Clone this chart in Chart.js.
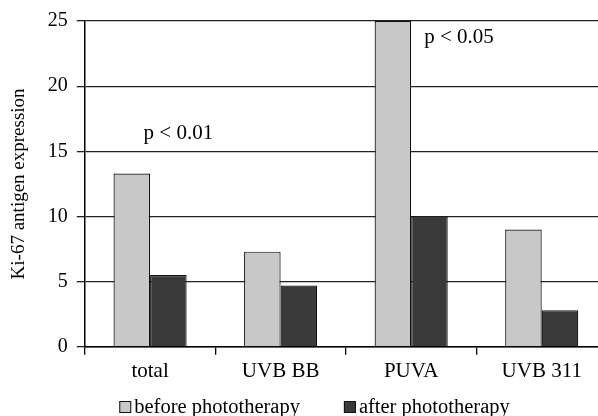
<!DOCTYPE html>
<html>
<head>
<meta charset="utf-8">
<script src="https://cdn.jsdelivr.net/npm/chart.js@4"></script>
<style>
html,body{margin:0;padding:0;background:#fff;overflow:hidden;width:598px;height:416px;}
#wrap{position:absolute;left:0;top:0;width:629px;height:416px;}
</style>
</head>
<body>
<div id="wrap"><canvas id="c" width="629" height="416"></canvas></div>
<script>
const categories = ['total', 'UVB BB', 'PUVA', 'UVB 311'];
const beforeValues = [13.3, 7.3, 25, 9.0];
const afterValues = [5.5, 4.7, 10.0, 2.8];
const seriesNames = ['before phototherapy', 'after phototherapy'];
const seriesColors = ['#c8c8c8', '#3a3a3a'];
const yTicks = [0, 5, 10, 15, 20, 25];
const annotations = [
  {text: 'p < 0.01', cat: -0.05, y: 16.4},
  {text: 'p < 0.05', cat: 0.1 + 2, y: 23.7}
];

const FONT = '"Liberation Serif", "Times New Roman", serif';

const annotPlugin = {
  id: 'annot',
  afterDatasetsDraw(chart) {
    const ctx = chart.ctx;
    const xs = chart.scales.x, ys = chart.scales.y;
    ctx.save();
    ctx.font = '21px ' + FONT;
    ctx.fillStyle = '#000';
    ctx.textAlign = 'left';
    ctx.textBaseline = 'middle';
    annotations.forEach(a => {
      ctx.fillText(a.text, xs.getPixelForValue(a.cat), ys.getPixelForValue(a.y));
    });
    ctx.restore();
  }
};

const legendPlugin = {
  id: 'customLegend',
  afterDraw(chart) {
    const ctx = chart.ctx;
    ctx.save();
    ctx.font = '20.5px ' + FONT;
    const box = 12, boxGap = 3, itemGap = 44;
    const widths = chart.data.datasets.map(d => box + boxGap + ctx.measureText(d.label).width);
    const total = widths.reduce((a, b) => a + b, 0) + itemGap * (widths.length - 1);
    let x = chart.width / 2 - total / 2;
    const yBox = 401;
    chart.data.datasets.forEach((d, i) => {
      ctx.fillStyle = d.backgroundColor;
      ctx.fillRect(x, yBox, box, box);
      ctx.strokeStyle = '#111';
      ctx.lineWidth = 1;
      ctx.strokeRect(x + 0.5, yBox + 0.5, box - 1, box - 1);
      ctx.fillStyle = '#000';
      ctx.textAlign = 'left';
      ctx.textBaseline = 'alphabetic';
      ctx.fillText(d.label, x + box + boxGap, yBox + 12);
      x += widths[i] + itemGap;
    });
    ctx.restore();
  }
};

new Chart(document.getElementById('c'), {
  type: 'bar',
  data: {
    labels: categories,
    datasets: [
      {label: seriesNames[0], data: beforeValues, backgroundColor: seriesColors[0], borderColor: '#111', borderWidth: 1.2, barPercentage: 1, categoryPercentage: 0.56},
      {label: seriesNames[1], data: afterValues, backgroundColor: seriesColors[1], borderColor: '#111', borderWidth: 1.2, barPercentage: 1, categoryPercentage: 0.56}
    ]
  },
  options: {
    responsive: false,
    animation: false,
    devicePixelRatio: 1,
    layout: {padding: {top: 15, right: 22, left: 8, bottom: 28}},
    plugins: {
      legend: {display: false},
      tooltip: {enabled: false}
    },
    scales: {
      x: {
        grid: {drawOnChartArea: false, color: '#000', lineWidth: 1.3, tickLength: 8, offset: true},
        border: {color: '#000', width: 1.5},
        ticks: {font: {family: FONT, size: 21}, color: '#000', padding: 4}
      },
      y: {
        min: 0, max: 25,
        afterBuildTicks(axis) { axis.ticks = yTicks.map(v => ({value: v})); },
        grid: {color: '#222', lineWidth: 1.3, tickLength: 8},
        border: {color: '#000', width: 1.5},
        ticks: {font: {family: FONT, size: 20}, color: '#000', padding: 9},
        title: {display: true, text: 'Ki-67 antigen expression', font: {family: FONT, size: 19}, color: '#000', padding: {top: 0, bottom: 8}}
      }
    }
  },
  plugins: [annotPlugin, legendPlugin]
});
</script>
</body>
</html>
